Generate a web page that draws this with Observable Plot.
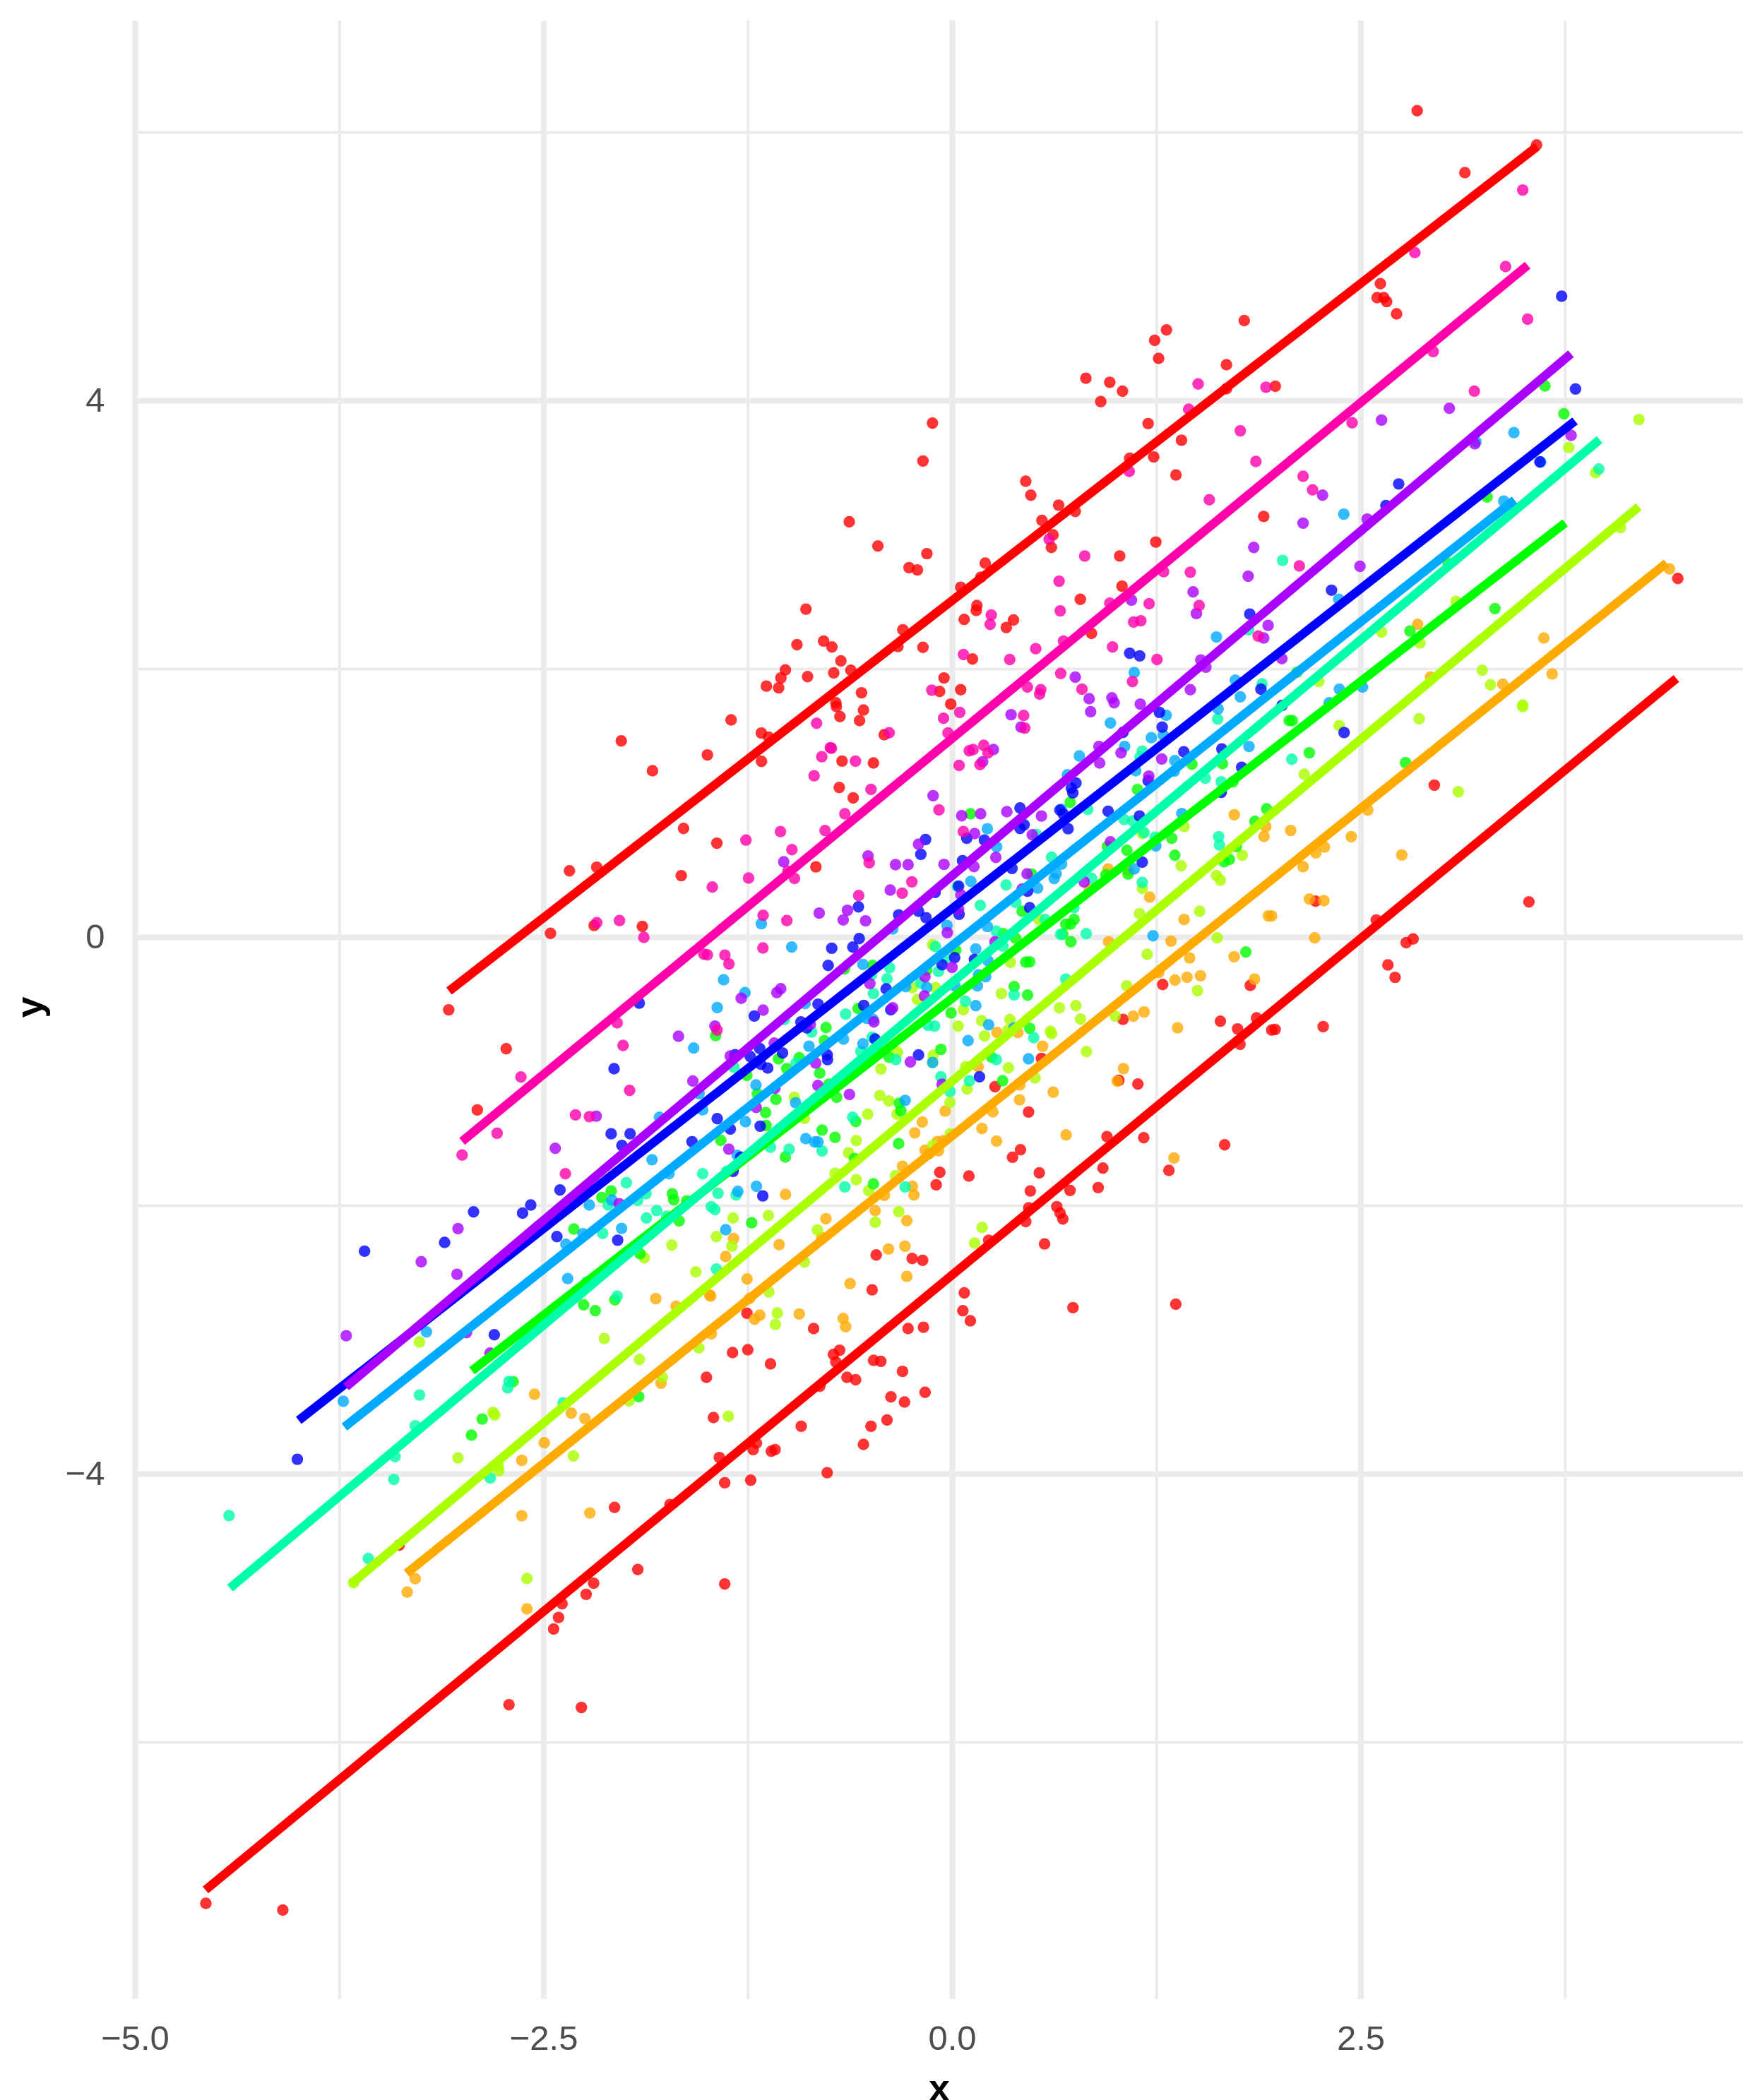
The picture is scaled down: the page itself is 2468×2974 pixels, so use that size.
<!DOCTYPE html>
<html><head><meta charset="utf-8">
<style>html,body{margin:0;padding:0;background:#fff;overflow:hidden}</style>
<script src="https://cdn.jsdelivr.net/npm/d3@7"></script>
<script src="https://cdn.jsdelivr.net/npm/@observablehq/plot@0.6"></script>
</head><body><div id="chart"></div>
<script>
const xLabels=[-5,-2.5,0,2.5];
const xMinor=[-3.75,-1.25,1.25,3.75];
const yLabels=[-4,0,4];
const yMinor=[-6,-2,2,6];
const xDomain=[-5,4.84];
const yDomain=[-7.916,6.832];

const redColor="#FF0000",orangeColor="#FFAA00",limeColor="#AAFF00",greenColor="#00FF00",springColor="#00FFAA",azureColor="#00AAFF",blueColor="#0000FF",purpleColor="#AA00FF",magentaColor="#FF00AA";

const fitRedLow=[[-4.57,-7.1],[4.43,1.93]];
const fitOrange=[[-3.34,-4.74],[4.37,2.79]];
const fitLime=[[-3.68,-4.82],[4.2,3.21]];
const fitGreen=[[-2.94,-3.23],[3.75,3.09]];
const fitSpring=[[-4.42,-4.85],[3.96,3.71]];
const fitAzure=[[-3.72,-3.65],[3.44,3.26]];
const fitBlue=[[-4.0,-3.6],[3.81,3.85]];
const fitPurple=[[-3.71,-3.35],[3.785,4.35]];
const fitMagenta=[[-3.0,-1.52],[3.52,5.01]];
const fitRedTop=[[-3.08,-0.4],[3.578,5.895]];

const redPoints=[[2.844,6.162],[3.575,5.907],[3.136,5.7],[2.619,4.873],[2.599,4.769],[2.64,4.769],[2.657,4.739],[2.718,4.648],[1.786,4.598],[1.31,4.528],[1.238,4.45],[1.262,4.316],[1.677,4.269],[0.817,4.168],[0.963,4.138],[1.041,4.071],[0.908,3.994],[1.976,4.108],[1.677,4.09],[-0.122,3.833],[-0.18,3.551],[1.198,3.83],[1.402,3.706],[1.085,3.571],[1.232,3.581],[1.368,3.447],[0.449,3.4],[0.48,3.296],[0.65,3.222],[0.752,3.175],[0.548,3.108],[0.616,3.0],[0.606,2.907],[1.905,3.138],[1.245,2.947],[1.024,2.843],[-0.456,2.917],[-0.156,2.86],[-0.265,2.756],[-0.214,2.739],[0.201,2.79],[0.174,2.685],[0.051,2.61],[1.038,2.618],[0.783,2.52],[0.15,2.474],[0.146,2.437],[0.072,2.37],[0.374,2.366],[0.33,2.31],[0.851,2.266],[-0.303,2.293],[-0.333,2.168],[-0.18,2.162],[0.123,2.075],[-0.051,1.934],[-0.078,1.833],[0.051,1.846],[-0.01,1.739],[4.439,2.675],
[2.949,1.135],[2.222,0.27],[3.528,0.265],[2.819,-0.012],[2.777,-0.039],[2.665,-0.205],[2.709,-0.298],[2.269,-0.665],[1.975,-0.686],[2.594,0.13],
[1.044,-0.611],[1.287,-0.351],[1.64,-0.625],[1.745,-0.682],[1.861,-0.6],[1.76,-0.797],[1.823,-0.358],[1.954,-0.691],[0.545,-0.902],
[-1.354,1.621],[-2.026,1.465],[-1.499,1.36],[-1.835,1.242],[-1.169,1.523],[-1.124,1.493],[-1.168,1.312],[-0.71,1.721],[-0.544,1.695],[-0.688,1.646],[-0.568,1.616],[-0.417,1.511],[-0.675,1.314],[-0.483,1.3],[-0.692,1.117],[-0.607,1.04],[-1.645,0.812],[-1.441,0.702],[-2.343,0.496],[-2.176,0.523],[-1.659,0.46],[-0.835,0.526],[-2.192,0.089],[-1.897,0.082],
[-1.257,-2.802],[-0.849,-2.916],[-0.491,-2.627],[-0.466,-2.367],[-0.246,-2.393],[-0.271,-2.916],
[0.261,-1.113],[0.466,-1.302],[0.417,-1.583],[0.368,-1.639],[-0.077,-1.751],[-0.099,-1.844],[0.101,-1.779],[0.532,-1.755],[0.477,-1.89],[0.72,-1.886],[0.892,-1.865],[0.921,-1.72],[0.946,-1.485],[1.171,-1.493],[1.019,-1.065],[1.135,-1.093],[1.325,-1.737],[1.666,-1.546],[0.467,-2.016],[0.449,-2.118],[0.639,-2.007],[0.659,-2.055],[0.676,-2.099],[0.222,-2.257],[0.564,-2.285],[-0.182,-2.407],[0.073,-2.65],[0.064,-2.783],[0.11,-2.858],[-0.177,-2.906],[0.738,-2.76],[1.367,-2.734],
[-1.345,-3.095],[-1.252,-3.074],[-1.113,-3.179],[-1.505,-3.279],[-1.462,-3.579],[-0.925,-3.644],[-0.728,-3.109],[-0.69,-3.077],[-0.713,-3.165],[-0.482,-3.153],[-0.438,-3.16],[-0.305,-3.235],[-0.645,-3.279],[-0.592,-3.297],[-0.811,-3.346],[-0.376,-3.425],[-0.293,-3.463],[-0.4,-3.597],[-0.498,-3.644],[-0.544,-3.779],[-1.199,-3.77],[-1.219,-3.818],[-1.108,-3.83],[-1.085,-3.818],[-1.426,-3.877],[-1.393,-4.065],[-1.234,-4.046],[-0.766,-3.99],[-1.728,-4.227],[-2.067,-4.249],[-1.925,-4.712],[-1.393,-4.82],[-2.195,-4.814],[-2.241,-4.897],[-2.388,-4.967],[-2.41,-5.069],[-2.44,-5.155],[-0.167,-3.391],
[-0.631,3.098],[-0.896,2.447],[-0.951,2.182],[-0.788,2.209],[-0.737,2.165],[-0.682,2.061],[-0.726,1.971],[-0.621,1.991],[-1.022,1.994],[-1.049,1.934],[-1.138,1.873],[-1.063,1.86],[-0.886,1.944],[-0.556,1.823],[-0.713,1.749],
[-2.907,-1.286],[-2.459,0.03],[-3.082,-0.54],[-2.73,-0.83],[-3.385,-4.53],[-2.713,-5.72],[-2.27,-5.74],[-4.568,-7.2],[-4.097,-7.25]];

const orangePoints=[[4.388,2.746],[3.619,2.232],[3.67,1.964],[2.847,2.333],[3.368,1.887],[2.925,1.94],[2.542,0.949],[2.07,0.797],[2.441,0.751],[2.277,0.674],[2.224,0.63],[2.146,0.527],[2.75,0.614],[2.185,0.286],[2.273,0.274],[1.953,0.16],[2.217,-0.004],
[1.725,0.914],[1.918,0.826],[1.907,0.753],[1.934,0.16],[1.418,0.133],[1.207,0.3],[0.838,0.361],[0.953,0.51],[1.075,0.502],[0.956,-0.033],[1.338,-0.028],[0.273,-0.709],[0.401,-0.709],[0.552,-0.811],[1.107,-0.588],[1.173,-0.556],[1.378,-0.674],[1.362,-0.318],[1.436,-0.297],[1.518,-0.286],[1.452,-0.153],[1.849,-0.311],[1.263,-0.261],[1.724,-0.144],
[-0.305,-1.706],[-0.23,-1.457],[-0.245,-1.855],[-0.235,-1.92],[-0.416,-1.923],[-0.472,-2.037],[-0.279,-2.111],[-0.774,-2.097],[-0.8,-2.236],[-1.06,-2.29],[-1.339,-2.244],[-1.387,-2.379],[-1.256,-2.546],[-1.021,-1.916],[-1.815,-2.693],[-1.691,-2.75],[-1.486,-2.665],[-1.479,-2.674],[-1.241,-2.692],[-1.178,-2.816],[-1.21,-2.846],[-0.937,-2.807],[-0.668,-2.841],[-0.653,-2.902],[-1.475,-2.955],[-0.626,-2.581],[-0.279,-2.527],[-0.391,-2.323],[-0.29,-2.302],
[0.158,-0.964],[0.413,-1.1],[0.411,-1.211],[0.617,-1.153],[-0.044,-1.295],[-0.184,-1.376],[0.248,-1.3],[0.181,-1.425],[0.27,-1.518],[0.696,-1.472],[-0.092,-1.522],[-0.056,-1.516],[-0.167,-1.586],[-0.085,-1.59],[-0.142,-1.613],[1.047,-0.978],[1.008,-1.072],[1.356,-1.644],
[-2.557,-3.405],[-1.783,-3.323],[-2.332,-3.546],[-2.249,-3.586],[-2.497,-3.767],[-2.635,-3.898],[-2.218,-4.291],[-2.635,-4.311],[-2.603,-5.005],[-3.336,-4.88],[-3.287,-4.78]];

const limePoints=[[4.201,3.86],[3.772,3.652],[3.936,3.464],[4.089,3.054],[3.082,2.504],[2.626,2.276],[2.861,2.195],[3.242,1.991],[3.293,1.883],[2.242,1.907],[3.49,1.732],[2.367,1.579],[2.856,1.63],[3.49,1.721],[2.153,1.216],[3.096,1.086],
[1.418,0.826],[1.162,0.774],[1.774,0.612],[1.4,0.533],[1.616,0.461],[1.64,0.426],[1.162,0.365],[1.513,0.195],[1.145,0.177],[0.528,0.137],[1.62,-0.004],[-0.121,-0.054],[0.355,-0.186],[1.192,-0.126],[-0.103,-0.375],[0.3,-0.419],[0.067,-0.539],[0.179,-0.621],[0.035,-0.661],[0.352,-0.612],[0.197,-0.735],[0.341,-0.691],[0.6,-0.7],[0.607,-0.718],[-0.118,-0.879],[0.82,-0.851],[0.655,-0.525],[0.756,-0.509],[0.784,-0.609],[1.067,-0.361],[0.996,-0.586],[1.5,-0.397],
[-0.245,-0.375],[-0.336,-0.855],[-0.214,-0.463],[-0.967,-1.192],[-0.905,-1.35],[-0.437,-0.981],[-0.444,-1.178],[-0.388,-1.22],[-0.339,-1.318],[-0.518,-1.318],[-0.588,-1.515],[-0.635,-1.606],[-0.718,-1.758],[-0.588,-1.806],[-0.512,-1.888],[-0.348,-1.776],[-0.328,-2.044],[-0.472,-2.123],[-0.826,-2.181],[-1.126,-2.074],[-1.342,-2.092],[-1.349,-2.302],[-1.444,-2.23],[-1.57,-2.493],[-0.905,-2.42],[-1.717,-2.293],[-1.885,-2.388],[-2.13,-2.99],[-1.122,-2.643],[-1.071,-2.8],[-1.083,-2.885],
[-0.121,-0.932],[0.081,-0.964],[0.343,-0.972],[0.506,-1.048],[0.09,-1.13],[-0.015,-1.23],[-0.012,-1.464],[-0.121,-1.551],[0.182,-2.162],[0.136,-2.279],
[-1.915,-3.146],[-1.551,-3.06],[-1.775,-3.279],[-1.978,-3.455],[-2.8,-3.56],[-1.371,-3.57],[-2.319,-3.865],[-2.775,-3.976],[-2.603,-4.779],[-3.261,-3.016],[-3.025,-3.88],[-2.811,-3.54],[-2.779,-3.94],[-3.664,-4.81]];

const greenPoints=[[3.626,4.111],[3.742,3.903],[3.272,3.283],[3.32,2.451],[2.8,2.283],[2.109,1.977],[3.034,2.79],[2.061,1.616],[2.08,1.616],[2.184,1.376],[2.773,1.302],
[1.133,1.102],[1.466,1.291],[1.653,1.295],[1.717,1.16],[0.111,0.921],[0.721,1.007],[1.923,0.958],[1.851,0.865],[0.485,0.472],[0.427,0.195],[0.745,0.133],[0.722,0.098],[0.694,0.098],[0.675,0.024],[0.725,-0.033],[0.939,0.467],[1.075,0.472],[1.068,0.649],[0.949,0.677],[1.342,0.739],[1.361,0.612],[1.738,0.677],[1.695,0.581],[1.663,0.563],[0.312,0.028],[0.387,-0.007],[0.021,-0.095],[0.449,-0.184],[0.473,-0.182],[-0.157,-0.244],[0.378,-0.367],[0.46,-0.43],[-0.008,-0.563],[0.473,-0.677],[-0.07,-0.835],[0.24,-0.893],[1.796,-0.109],
[-0.488,-0.209],[-0.66,-0.235],[-0.577,-0.53],[-0.773,-0.672],[-1.449,-0.732],[-1.064,-0.905],[-0.937,-0.897],[-0.783,-0.77],[-0.387,-0.893],[-1.258,-1.029],[-1.014,-0.978],[-0.812,-1.011],[-1.194,-1.165],[-1.08,-1.207],[-1.143,-1.306],[-1.14,-1.402],[-1.417,-1.513],[-1.022,-1.637],[-0.797,-1.436],[-0.718,-1.49],[-0.708,-1.192],[-0.757,-1.095],[-0.325,-1.236],[-0.315,-1.292],[-0.591,-1.372],[-0.329,-1.537],[-0.599,-1.648],[-0.483,-1.837],[-1.228,-2.127],[-1.626,-1.964],[-1.714,-1.911],[-1.705,-1.955],[-2.088,-1.89],[-2.145,-1.939],[-2.316,-2.174],[-1.672,-2.113],[-1.911,-2.358],[-2.065,-2.701],[-2.256,-2.739],[-2.185,-2.783],
[0.307,-1.069],[-2.688,-3.312],[-1.919,-3.423],[-2.877,-3.59],[-2.943,-3.71]];

const springPoints=[[3.956,3.491],[2.021,2.81],[1.813,2.293],[1.895,1.89],[2.077,1.328],
[1.623,1.628],[1.162,1.388],[1.148,1.344],[1.548,1.186],[1.645,1.16],[0.828,0.954],[1.051,0.879],[1.104,0.867],[1.173,0.782],[0.514,0.768],[0.329,0.391],[0.607,0.598],[0.388,0.26],[0.567,0.133],[0.744,0.221],[0.662,0.023],[0.819,0.028],[1.162,0.409],[0.852,0.44],[1.241,0.747],[1.629,0.751],[1.634,0.689],[0.171,0.238],[0.031,0.379],[0.269,0.046],[0.309,-0.065],[-0.103,-0.068],[-0.041,-0.153],[-0.085,-0.253],[-0.193,-0.34],[0.694,-0.311],[0.378,-0.428],[0.08,-0.476],[-0.109,-0.661],[-0.149,-0.656],[0.498,-0.747],[0.269,-0.911],
[-0.384,-0.226],[-0.4,-0.309],[-0.483,-0.419],[-0.495,-0.279],[-0.653,-0.572],[-0.861,-0.705],[-0.491,-0.744],[-0.56,-0.849],[-1.028,-0.612],[-1.336,-0.969],[-0.956,-0.937],[-0.346,-0.911],[-0.61,-1.341],[-1.528,-1.762],[-1.381,-1.744],[-1.113,-1.564],[-0.999,-1.579],[-0.797,-1.592],[-0.658,-1.86],[-0.289,-1.86],[-1.323,-1.92],[-1.434,-1.907],[-1.475,-2.007],[-1.453,-2.029],[-1.875,-1.911],[-1.926,-1.96],[-1.995,-1.829],[-2.106,-1.995],[-2.14,-2.206],[-1.872,-2.092],[-1.809,-2.036],[-1.748,-2.078],[-2.051,-2.674],[-1.444,-2.472],
[-0.07,-1.039],[0.104,-1.069],[-0.015,-1.148],[-2.721,-3.358],[-2.382,-3.469],[-2.238,-2.569],[-3.261,-3.411],[-4.426,-4.31],[-3.287,-3.64],[-3.41,-3.87],[-3.418,-4.04],[-2.713,-3.31],[-2.828,-4.03],[-3.574,-4.63]];

const azurePoints=[[3.436,3.763],[3.204,3.695],[2.395,3.155],[3.6,3.544],[3.374,3.252],[1.616,2.239],[2.364,2.52],[1.113,1.974],[1.731,1.917],[1.762,1.793],[2.51,1.866],[2.306,1.749],[2.368,1.85],
[1.626,1.703],[0.967,1.598],[1.308,1.656],[1.291,1.507],[1.217,1.488],[1.054,1.423],[0.777,1.353],[1.122,1.242],[1.815,1.423],[1.361,1.317],[1.358,1.239],[0.704,1.212],[0.668,0.954],[1.404,0.923],[0.214,0.81],[0.271,0.675],[0.113,0.417],[0.668,0.546],[0.635,0.475],[0.623,0.439],[0.521,0.367],[1.113,0.511],[1.245,0.682],[1.228,0.012],[-0.033,0.089],[0.214,0.081],[0.143,-0.086],[0.218,-0.174],[-0.157,-0.372],[0.204,-0.293],[0.16,-0.279],[0.016,-0.361],[0.153,-0.361],[0.143,-0.509],[0.222,-0.651],[0.377,-0.674],[0.096,-0.77],[0.466,-0.905],
[-1.169,0.102],[-0.365,0.063],[-0.983,-0.072],[-0.547,-0.202],[-1.4,-0.316],[-1.269,-0.412],[-1.439,-0.523],[-1.583,-0.825],[-0.901,-0.493],[-0.877,-0.811],[-0.666,-0.758],[-0.547,-0.793],[-0.286,-0.367],[-0.524,-0.604],[-0.485,-0.612],
[-1.55,-1.165],[-1.528,-1.285],[-1.792,-1.341],[-1.202,-1.1],[-0.959,-1.232],[-1.266,-1.374],[-1.316,-1.625],[-1.838,-1.657],[-1.734,-1.762],[-0.897,-1.5],[-0.843,-1.525],[-0.822,-1.525],[-0.289,-1.215],[-1.199,-1.855],[-1.313,-1.893],[-1.387,-2.179],[-2.083,-1.958],[-2.222,-1.995],[-2.26,-2.209],[-2.024,-2.169],[-2.354,-2.543],
[-0.121,-0.932],[-2.365,-2.288],[-3.218,-2.941],[-3.727,-3.458]];

const bluePoints=[[3.728,4.779],[3.813,4.088],[2.731,3.38],[2.653,3.219],[2.32,2.588],[1.82,2.41],[1.085,2.118],[1.146,2.098],[3.595,3.544],[1.888,1.85],[2.018,1.73],[2.397,1.527],
[1.267,1.677],[1.284,1.567],[1.044,1.528],[1.198,1.168],[1.416,1.384],[1.649,1.405],[1.77,1.268],[1.645,1.081],[0.414,0.965],[0.756,1.151],[0.728,1.112],[0.737,1.077],[0.658,0.949],[0.679,0.919],[0.953,0.94],[1.145,0.905],[0.708,0.81],[0.439,0.839],[0.414,0.812],[0.088,0.739],[0.196,0.725],[-0.164,0.73],[-0.193,0.619],[0.062,0.572],[0.365,0.514],[0.46,0.344],[0.473,0.221],[1.162,0.561],[0.038,0.382],[0.041,0.172],[-0.106,0.335],[-0.161,0.147],[-0.207,0.195],[0.014,-0.151],[-0.063,-0.204],[0.135,-0.165],[-0.207,-0.876],
[-0.575,0.228],[-0.329,0.168],[-0.57,-0.009],[-0.738,-0.081],[-0.609,-0.072],[-0.76,-0.209],[-0.405,-0.384],[-0.822,-0.498],[-0.542,-0.507],[-0.377,-0.539],[-1.916,-0.49],[-1.212,-0.586],[-0.927,-0.63],[-0.891,-0.674],[-0.473,-0.758],[-1.179,-0.828],[-1.039,-0.862],[-1.237,-0.888],[-1.33,-0.875],[-0.766,-0.875],
[-2.07,-0.979],[-2.088,-1.464],[-1.972,-1.464],[-2.022,-1.551],[-1.172,-0.946],[-1.13,-0.974],[-0.764,-0.911],[-1.176,-1.407],[-1.439,-1.351],[-1.359,-1.429],[-1.593,-1.523],[-1.295,-1.639],[-1.342,-1.744],[-1.16,-1.927],[-2.048,-2.257],[0.166,-1.039],
[-2.401,-1.883],[-2.58,-1.995],[-2.63,-2.055],[-2.93,-2.046],[-3.107,-2.274],[-3.597,-2.339],[-2.42,-2.23],[-2.803,-2.962],[-4.008,-3.89]];

const purplePoints=[[2.626,3.856],[3.041,3.944],[3.197,3.679],[3.786,3.742],[2.265,3.296],[2.146,3.088],[2.538,3.118],[1.844,2.907],[2.494,2.766],[1.81,2.692],[1.473,2.575],[1.493,2.414],[1.096,2.514],[1.932,2.326],[1.905,2.232],[2.016,2.078],[1.52,2.068],[1.551,2.014],[0.752,1.94],[0.837,1.779],[0.976,1.786],[0.99,1.749],[1.15,1.739],[1.456,1.846],
[0.359,1.66],[0.42,1.568],[0.846,1.682],[0.897,1.423],[1.032,1.375],[0.901,1.3],[1.202,1.202],[1.281,1.33],[0.251,1.4],[0.185,1.309],[-0.118,1.056],[0.057,0.907],[0.173,0.921],[0.333,0.937],[0.545,0.905],[0.489,0.765],[0.136,0.774],[-0.207,0.695],[0.266,0.596],[-0.051,0.544],[0.132,0.528],[0.457,0.474],[0.427,0.361],[0.806,0.414],[0.967,0.712],[0.038,0.212],[0.052,0.317],[-0.031,0.035],[0.261,-0.033],[-0.002,-0.223],[-0.168,-0.293],[-0.171,-0.437],
[-1.032,0.563],[-0.516,0.607],[-0.348,0.542],[-0.271,0.542],[-0.38,0.353],[-0.815,0.181],[-0.642,0.202],[-0.668,0.13],[-0.531,0.123],[-1.05,-0.383],[-1.074,-0.411],[-1.292,-0.454],[-1.158,-0.542],[-1.453,-0.661],[-1.676,-0.737],[-0.505,-0.344],[-0.48,-0.63],[-0.365,-0.525],[-0.869,-0.647],[-1.09,-0.788],[-1.359,-0.884],
[-2.179,-1.332],[-1.588,-1.071],[-1.201,-1.267],[-0.836,-0.937],[-0.823,-1.104],[-1.086,-1.125],[-1.368,-1.578],[-0.63,-1.171],[-0.257,-0.929],[-2.039,-1.985],[-0.063,-1.095],
[-2.43,-1.572],[-3.025,-2.171],[-3.25,-2.418],[-3.031,-2.511],[-3.709,-2.969],[-2.973,-2.946],[-2.829,-3.099]];

const magentaPoints=[[3.49,5.571],[2.83,5.105],[3.385,5.0],[3.52,4.608],[2.942,4.367],[1.504,4.125],[1.919,4.101],[3.194,4.071],[1.446,3.937],[2.446,3.836],[1.762,3.776],[1.082,3.474],[1.857,3.548],[2.146,3.437],[2.204,3.336],[1.572,3.262],[0.592,2.967],[0.81,2.843],[0.653,2.655],[1.293,2.726],[1.456,2.722],[2.123,2.769],[0.66,2.434],[0.238,2.403],[0.231,2.333],[0.963,2.491],[1.204,2.487],[1.51,2.474],[1.109,2.35],[1.153,2.36],[0.68,2.209],[0.98,2.165],[0.51,2.152],[0.068,2.108],[0.351,2.071],[1.252,2.071],[0.663,1.967],[1.102,1.907],[-0.126,1.843],[0.459,1.866],[0.541,1.846],[0.534,1.813],[0.793,1.85],[1.871,2.246],
[-0.054,1.633],[0.045,1.677],[-0.027,1.524],[0.436,1.654],[0.443,1.56],[0.103,1.391],[0.127,1.4],[0.192,1.432],[0.218,1.375],[0.169,1.288],[0.041,1.282],[-0.082,0.951],[0.067,0.789],
[-0.831,1.596],[-0.387,1.525],[-0.747,1.414],[-0.74,1.41],[-0.799,1.347],[-0.593,1.314],[-0.846,1.205],[-0.498,1.103],[-0.658,0.921],[-0.779,0.796],[-1.052,0.789],[-1.263,0.725],[-0.982,0.654],[-0.966,0.44],[-1.247,0.442],[-1.006,0.493],[-1.469,0.375],[-0.509,0.556],[-0.573,0.312],[-0.248,0.414],[-0.307,0.33],[-1.158,0.165],[-1.013,0.125],[-2.176,0.109],[-2.037,0.125],[-1.888,0.0],[-1.521,-0.125],[-1.499,-0.13],[-1.392,-0.132],[-1.367,-0.198],[-1.159,-0.079],[-2.051,-0.637],[-2.015,-0.805],[-1.44,-0.691],
[-1.975,-1.141],[-2.306,-1.323],[-2.221,-1.336],[-2.368,-1.762],[-2.64,-1.041],[-2.786,-1.46],[-3.0,-1.622]];

const series=[
  [redPoints,redColor],[orangePoints,orangeColor],[limePoints,limeColor],[greenPoints,greenColor],[springPoints,springColor],
  [azurePoints,azureColor],[bluePoints,blueColor],[purplePoints,purpleColor],[magentaPoints,magentaColor]
];
const fits=[
  [fitRedLow,redColor],[fitOrange,orangeColor],[fitLime,limeColor],[fitGreen,greenColor],[fitSpring,springColor],
  [fitAzure,azureColor],[fitBlue,blueColor],[fitPurple,purpleColor],[fitMagenta,magentaColor],[fitRedTop,redColor]
];
const minus=s=>s.replace("-","\u2212");
const chart=Plot.plot({
  width:2468,height:2974,
  marginTop:29,marginBottom:143,marginLeft:191,marginRight:0,
  style:{fontFamily:"'Liberation Sans',Arial,sans-serif",background:"#fff"},
  x:{domain:xDomain,label:null},
  y:{domain:yDomain,label:null},
  marks:[
    Plot.ruleX(xMinor,{stroke:"#EBEBEB",strokeWidth:4}),
    Plot.ruleY(yMinor,{stroke:"#EBEBEB",strokeWidth:4}),
    Plot.ruleX(xLabels,{stroke:"#EBEBEB",strokeWidth:8}),
    Plot.ruleY(yLabels,{stroke:"#EBEBEB",strokeWidth:8}),
    ...series.map(([pts,c])=>Plot.dot(pts,{x:d=>d[0],y:d=>d[1],r:8.2,fill:c,fillOpacity:0.8,stroke:"none"})),
    ...fits.map(([pts,c])=>Plot.line(pts,{x:d=>d[0],y:d=>d[1],stroke:c,strokeWidth:12.5,strokeLinecap:"butt"})),
    Plot.axisX({ticks:xLabels,tickSize:0,tickPadding:37,fontSize:49,color:"#4D4D4D",label:null,tickFormat:d=>minus(d.toFixed(1))}),
    Plot.axisY({ticks:yLabels,tickSize:0,tickPadding:43,fontSize:49,color:"#4D4D4D",label:null,tickFormat:d=>minus(String(d))}),
    Plot.text(["x"],{frameAnchor:"bottom",dy:143,fontSize:54,fontWeight:"bold",fill:"#000"}),
    Plot.text(["y"],{frameAnchor:"left",textAnchor:"middle",dx:-149,dy:-4,rotate:-90,fontSize:54,fontWeight:"bold",fill:"#000"})
  ]
});
document.getElementById("chart").appendChild(chart);
</script></body></html>
